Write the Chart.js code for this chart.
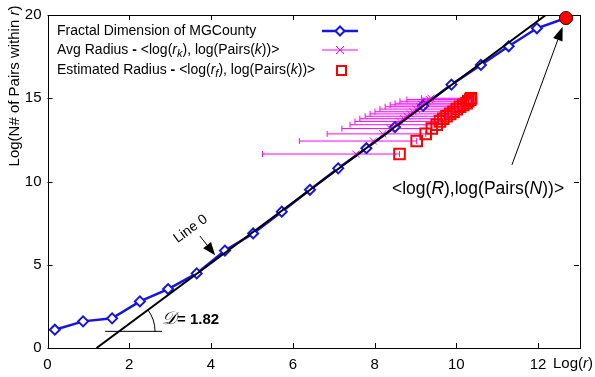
<!DOCTYPE html>
<html><head><meta charset="utf-8">
<script src="https://cdn.jsdelivr.net/npm/chart.js@4/dist/chart.umd.min.js"></script>
<style>html,body{margin:0;padding:0;background:#fff;}#wrap{width:595px;height:377px;}</style>
</head><body><div id="wrap"><canvas id="c" width="595" height="377"></canvas></div>
<script>
// ---- data ----
const fractalX = [0.18,0.87,1.58,2.26,2.95,3.65,4.34,5.03,5.73,6.42,7.11,7.80,8.50,9.19,9.88,10.60,11.28,11.97];
const fractalY = [1.10,1.60,1.78,2.80,3.54,4.48,5.85,6.88,8.19,9.50,10.79,12.00,13.27,14.55,15.82,17.00,18.12,19.20];
const totalX = [12.68];
const totalY = [19.82];
const pairsK = [11.65,12.43,12.86,13.18,13.41,13.61,13.77,13.92,14.06,14.19,14.35,14.49,14.60,14.70,14.82,14.92,15.00];
const avgR = [7.54,7.97,8.20,8.38,8.51,8.62,8.71,8.79,8.87,8.94,9.02,9.10,9.16,9.22,9.28,9.34,9.38];
const minR = [5.26,6.16,6.84,7.20,7.40,7.52,7.64,7.77,7.89,8.01,8.13,8.26,8.38,8.50,8.62,8.79,9.15];
const estR = [8.61,9.03,9.25,9.40,9.52,9.60,9.68,9.76,9.85,9.93,10.01,10.09,10.17,10.25,10.29,10.34,10.36];
const line0X = [1.20,12.19];
const line0Y = [0,20];
const slopeD = 1.82;
const xTicks = [0,2,4,6,8,10,12];
const yTicks = [0,5,10,15,20];

const BLUE = '#1414e6', MAG = '#ff00ff', RED = '#ff0000';
const FONT = "'Liberation Sans', Arial, Helvetica, sans-serif";
Chart.defaults.font.family = FONT;

function pts(xs, ys){ return xs.map((x,i)=>({x:x,y:ys[i]})); }

// style flags: I = italic, B = bold, S = subscript
function drawRuns(ctx, runs, x, y, size){
  let cx = x;
  for (const [t, s] of runs){
    let f = size, dy = 0, st = '';
    if (s.includes('I')) st += 'italic ';
    if (s.includes('B')) st += 'bold ';
    if (s.includes('S')) { f = Math.round(size*0.75); dy = size*0.3; }
    ctx.font = st + f + 'px ' + FONT;
    ctx.fillText(t, cx, y + dy);
    cx += ctx.measureText(t).width;
  }
  return cx - x;
}
function measureRuns(ctx, runs, size){
  let w=0;
  for (const [t,s] of runs){
    let f=size, st='';
    if (s.includes('I')) st+='italic ';
    if (s.includes('B')) st+='bold ';
    if (s.includes('S')) f=Math.round(size*0.75);
    ctx.font = st+f+'px '+FONT; w+=ctx.measureText(t).width;
  }
  return w;
}
function arrow(ctx, x1,y1,x2,y2, len, hw){
  const a = Math.atan2(y2-y1, x2-x1);
  const bx = x2 - len*Math.cos(a), by = y2 - len*Math.sin(a);
  ctx.beginPath(); ctx.moveTo(x1,y1); ctx.lineTo(bx,by); ctx.stroke();
  ctx.beginPath(); ctx.moveTo(x2,y2);
  ctx.lineTo(bx + hw*Math.sin(a), by - hw*Math.cos(a));
  ctx.lineTo(bx - hw*Math.sin(a), by + hw*Math.cos(a));
  ctx.closePath(); ctx.fill();
}

const overlay = {
  id: 'overlay',
  beforeDatasetsDraw(chart){
    const ctx = chart.ctx, xs = chart.scales.x, ys = chart.scales.y;
    ctx.save();
    ctx.strokeStyle = MAG; ctx.lineWidth = 1;
    for (let i=0;i<pairsK.length;i++){
      const y = ys.getPixelForValue(pairsK[i]);
      const x1 = xs.getPixelForValue(minR[i]), x2 = xs.getPixelForValue(estR[i]);
      ctx.beginPath(); ctx.moveTo(x1,y); ctx.lineTo(x2,y);
      ctx.moveTo(x1,y-3); ctx.lineTo(x1,y+3);
      ctx.moveTo(x2,y-3); ctx.lineTo(x2,y+3);
      ctx.stroke();
    }
    ctx.restore();
  },
  afterDraw(chart){
    const ctx = chart.ctx, a = chart.chartArea, xs = chart.scales.x, ys = chart.scales.y;
    ctx.save();
    ctx.strokeStyle = '#000'; ctx.lineWidth = 1;
    ctx.strokeRect(Math.round(a.left)+0.5, Math.round(a.top)+0.5, Math.round(a.right-a.left), Math.round(a.bottom-a.top));
    ctx.beginPath();
    for (const v of xTicks){
      const x = Math.round(xs.getPixelForValue(v))+0.5;
      ctx.moveTo(x,a.bottom); ctx.lineTo(x,a.bottom-5);
      ctx.moveTo(x,a.top); ctx.lineTo(x,a.top+5);
    }
    for (const v of yTicks){
      const y = Math.round(ys.getPixelForValue(v))+0.5;
      ctx.moveTo(a.left,y); ctx.lineTo(a.left+5,y);
      ctx.moveTo(a.right,y); ctx.lineTo(a.right-5,y);
    }
    ctx.stroke();

    // total point drawn again on top of the frame, unclipped
    const tp = chart.getDatasetMeta(1).data[0];
    ctx.fillStyle = RED; ctx.strokeStyle = '#600'; ctx.lineWidth = 1;
    ctx.beginPath(); ctx.arc(tp.x, tp.y, 6.5, 0, Math.PI*2); ctx.fill(); ctx.stroke();

    ctx.fillStyle = '#000'; ctx.textBaseline = 'middle'; ctx.textAlign = 'left';
    drawRuns(ctx, [['Log(',''],['r','I'],[')','']], 553, 364, 15);
    ctx.save();
    ctx.translate(15, 86); ctx.rotate(-Math.PI/2);
    const yt = [['Log(N# of Pairs within ',''],['r','I'],[')','']];
    const w = measureRuns(ctx, yt, 15);
    drawRuns(ctx, yt, -w/2, 0, 15);
    ctx.restore();

    const lx = 57, rows = [31, 50, 70];
    drawRuns(ctx, [['Fractal Dimension of MGCounty','']], lx, rows[0], 14);
    drawRuns(ctx, [['Avg Radius ',''],['-','B'],[' <log(',''],['r','I'],['k','IS'],['), log(Pairs(',''],['k','I'],['))>','']], lx, rows[1], 14);
    drawRuns(ctx, [['Estimated Radius ',''],['-','B'],[' <log(',''],['r','I'],['f','IS'],['), log(Pairs(',''],['k','I'],['))>','']], lx, rows[2], 14);
    ctx.strokeStyle = BLUE; ctx.lineWidth = 2.5;
    ctx.beginPath(); ctx.moveTo(322,rows[0]); ctx.lineTo(358,rows[0]); ctx.stroke();
    ctx.fillStyle = '#fff'; ctx.lineWidth = 2;
    ctx.beginPath(); ctx.moveTo(340,rows[0]-4.5); ctx.lineTo(344.5,rows[0]); ctx.lineTo(340,rows[0]+4.5); ctx.lineTo(335.5,rows[0]); ctx.closePath(); ctx.fill(); ctx.stroke();
    ctx.strokeStyle = MAG; ctx.lineWidth = 1;
    ctx.beginPath(); ctx.moveTo(322,rows[1]); ctx.lineTo(358,rows[1]);
    ctx.moveTo(336,rows[1]-4); ctx.lineTo(344,rows[1]+4); ctx.moveTo(344,rows[1]-4); ctx.lineTo(336,rows[1]+4); ctx.stroke();
    ctx.strokeStyle = RED; ctx.lineWidth = 2;
    ctx.strokeRect(337, rows[2]-4, 9, 9);

    ctx.fillStyle = '#000'; ctx.strokeStyle = '#000'; ctx.lineWidth = 1;
    ctx.save();
    ctx.translate(xs.getPixelForValue(3.5), ys.getPixelForValue(7.15));
    ctx.rotate(-36*Math.PI/180);
    ctx.font = '14px ' + FONT; ctx.textAlign = 'center';
    ctx.fillText('Line 0', 0, 0);
    ctx.restore();
    arrow(ctx, xs.getPixelForValue(3.73), ys.getPixelForValue(6.72), xs.getPixelForValue(4.1), ys.getPixelForValue(5.57), 13, 5);

    const hy = ys.getPixelForValue(1.0);
    const cxp = xs.getPixelForValue(line0X[0] + 1.0/slopeD);
    ctx.beginPath(); ctx.moveTo(xs.getPixelForValue(1.41), hy); ctx.lineTo(xs.getPixelForValue(2.8), hy); ctx.stroke();
    const ang = Math.atan2(ys.getPixelForValue(0)-ys.getPixelForValue(slopeD), xs.getPixelForValue(1)-xs.getPixelForValue(0));
    ctx.beginPath(); ctx.arc(cxp, hy, 36, -ang, 0); ctx.stroke();
    ctx.textAlign = 'left';
    const tx = xs.getPixelForValue(2.8), ty = ys.getPixelForValue(1.72);
    ctx.font = 'italic 18px "DejaVu Serif", serif';
    ctx.fillText('\u{1D49F}', tx, ty);
    const dw = ctx.measureText('\u{1D49F}').width;
    ctx.font = 'bold 15px ' + FONT;
    ctx.fillText('= 1.82', tx + dw + 1, ty);

    arrow(ctx, xs.getPixelForValue(11.36), ys.getPixelForValue(11.0), xs.getPixelForValue(12.6), ys.getPixelForValue(19.3), 14, 5);
    drawRuns(ctx, [['<log(',''],['R','I'],['),log(Pairs(',''],['N','I'],['))>','']], 392, 189, 17.5);
    ctx.restore();
  }
};

new Chart(document.getElementById('c'), {
  type: 'scatter',
  data: { datasets: [
    { type:'line', data: pts(line0X, line0Y), borderColor:'#000', borderWidth:2, pointRadius:0, order:0 },
    { data: pts(totalX, totalY), pointRadius:6.5, pointBackgroundColor:RED, pointBorderColor:'#600', pointBorderWidth:1, order:1 },
    { data: pts(estR, pairsK), pointStyle:'rect', pointRadius:7.5, pointBorderColor:RED, pointBackgroundColor:'rgba(0,0,0,0)', pointBorderWidth:2, order:2 },
    { data: pts(avgR, pairsK), pointStyle:'crossRot', pointRadius:5, pointBorderColor:MAG, pointBorderWidth:1, order:3 },
    { type:'line', data: pts(fractalX.concat(totalX), fractalY.concat(totalY)), borderColor:BLUE, borderWidth:2.5,
      pointStyle:'rectRot', pointRadius: fractalX.map(()=>5).concat([0]), pointBackgroundColor:'#fff', pointBorderColor:BLUE, pointBorderWidth:2, order:4 }
  ]},
  options: {
    responsive:false, animation:false, devicePixelRatio:1,
    layout:{ padding:{ top:7, right:16, left:0, bottom:0 } },
    plugins:{ legend:{display:false}, tooltip:{enabled:false} },
    scales:{
      x:{ type:'linear', min:0, max:13,
          grid:{display:false, drawTicks:false}, border:{display:false},
          afterBuildTicks:(s)=>{ s.ticks = xTicks.map(v=>({value:v})); },
          afterFit:(s)=>{ s.height = 29; },
          ticks:{ padding:8, color:'#000', font:{size:15}, maxRotation:0 } },
      y:{ type:'linear', min:0, max:20,
          grid:{display:false, drawTicks:false}, border:{display:false},
          afterBuildTicks:(s)=>{ s.ticks = yTicks.map(v=>({value:v})); },
          afterFit:(s)=>{ s.width = 47.5; },
          ticks:{ padding:6, color:'#000', font:{size:15} } }
    }
  },
  plugins:[overlay]
});
</script>
</body></html>
